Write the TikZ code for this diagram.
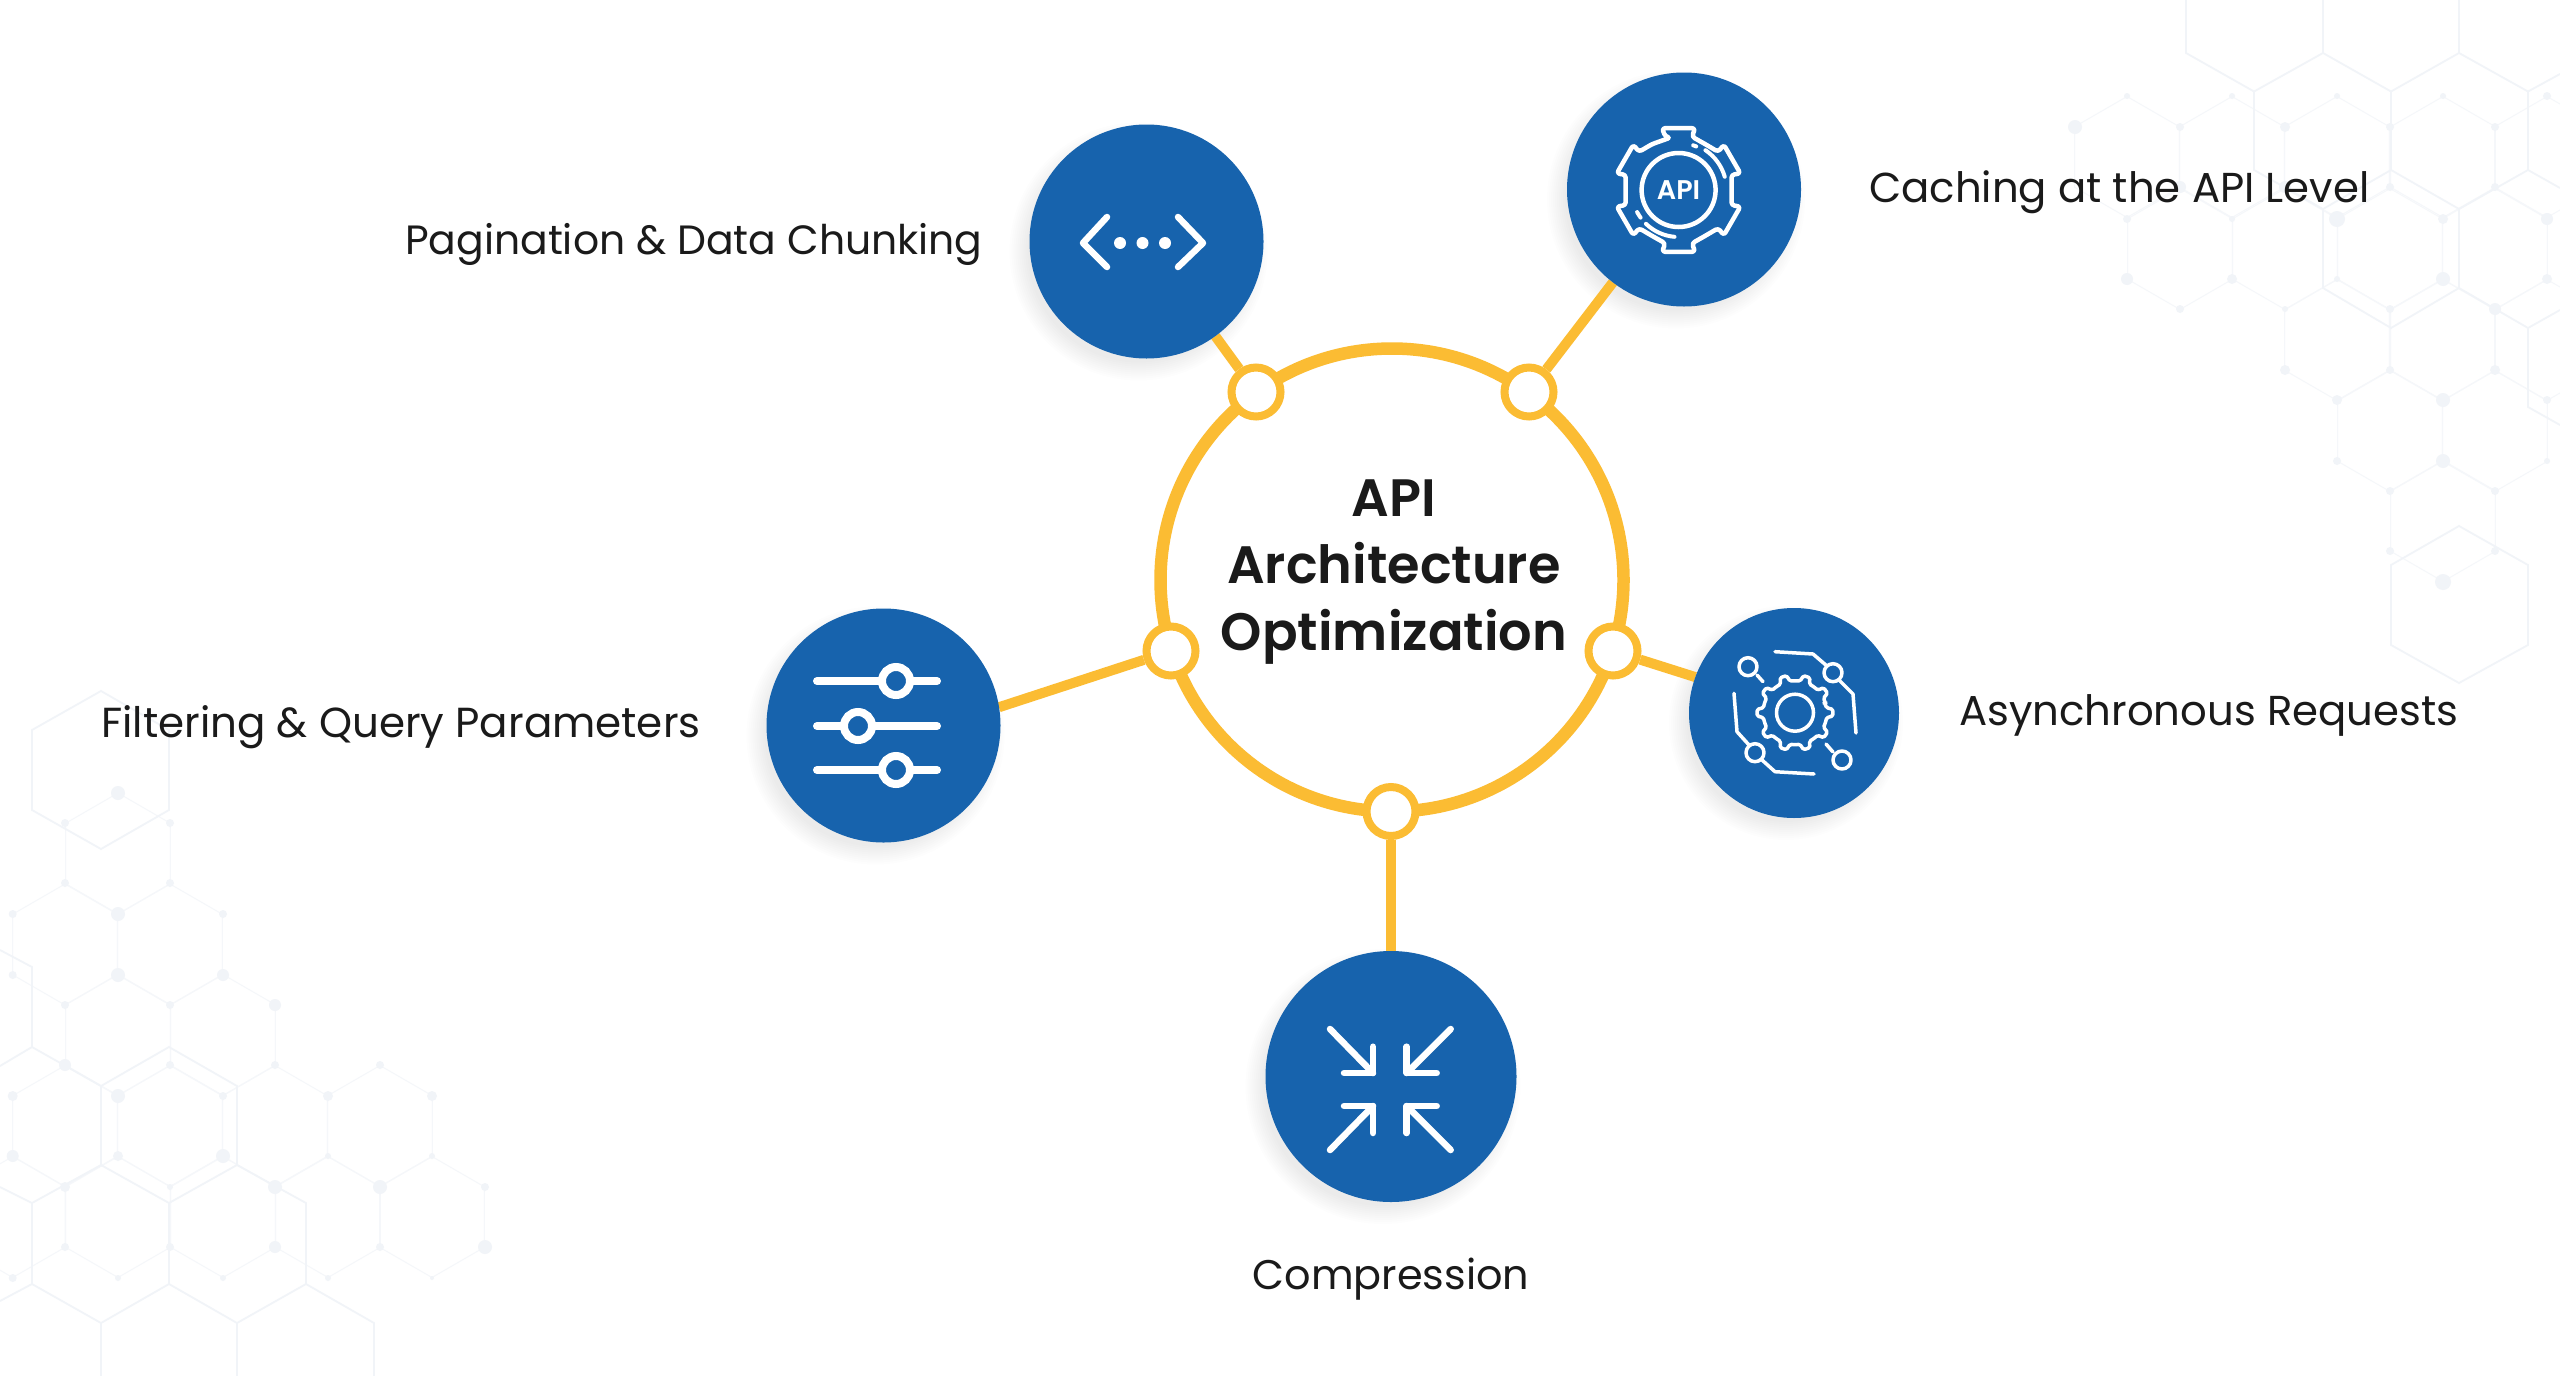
\documentclass[tikz,border=0pt]{standalone}
\usepackage{fontspec}
\setmainfont{Poppins}[BoldFont=Poppins SemiBold]
\usetikzlibrary{backgrounds}
\definecolor{nodeblue}{HTML}{1763AD}
\definecolor{ringyellow}{HTML}{FBBC33}
\definecolor{inkdark}{HTML}{1A1A1A}
\definecolor{hexbig}{HTML}{F1F4F8}
\definecolor{hexthin}{HTML}{F5F7FA}
\definecolor{hexdot}{HTML}{F1F4F8}
\tikzset{
  x=1pt,y=-1pt,
  bigcircle/.style={circle,fill=nodeblue,inner sep=0pt,outer sep=0pt,minimum size=#1},
  smallring/.style={circle,draw=ringyellow,fill=white,line width=8pt,inner sep=0pt,outer sep=4pt,minimum size=49pt},
  link/.style={draw=ringyellow,line width=10pt},
  label/.style={text=inkdark,inner sep=0pt,font=\fontsize{41.8}{46}\selectfont},
  icon/.style={draw=white,line width=#1,line cap=round,line join=round},
  icon/.default=6.5pt,
  bighex/.style={draw=hexbig,line width=1.8pt},
  thinhex/.style={draw=hexthin,line width=1pt},
}
\newcommand{\softshadow}[3]{% x, y, radius
  \foreach \k in {0,...,9}{
    \fill[black,opacity=0.007] (#1-8,#2+10) circle ({#3+12-2*\k});
  }
}
\newcommand{\hexcell}[2]{\draw[thinhex,shift={(#1,#2)}] (90:60.5pt) -- (30:60.5pt) -- (-30:60.5pt) -- (-90:60.5pt) -- (-150:60.5pt) -- (150:60.5pt) -- cycle;}
\begin{document}
\begin{tikzpicture}
\useasboundingbox (0,0) rectangle (2560,1376);

% main nodes
\node[circle,draw=ringyellow,line width=12.5pt,inner sep=0pt,outer sep=0pt,minimum size=463pt] (ring) at (1392,580) {};
\node[font=\fontsize{52.6}{67}\selectfont\bfseries,text=inkdark,align=center,inner sep=0pt] (title) at (1394,572) {API\\Architecture\\Optimization};

\node[smallring] (s1) at (1256,392) {};
\node[smallring] (s2) at (1529,392) {};
\node[smallring] (s3) at (1171,651) {};
\node[smallring] (s4) at (1613,651) {};
\node[smallring] (s5) at (1391,811.5) {};

\node[bigcircle=234pt] (n1) at (1146.5,241.5) {};
\node[bigcircle=234pt] (n2) at (1684,189.5) {};
\node[bigcircle=234pt] (n3) at (883.5,725.5) {};
\node[bigcircle=210pt] (n4) at (1794,713) {};
\node[bigcircle=251pt] (n5) at (1391,1076.5) {};

\node[label,anchor=base west,font=\fontsize{40.9}{46}\selectfont] (l1) at (405,254) {Pagination \& Data Chunking};
\node[label,anchor=base west] (l2) at (1869,202) {Caching at the API Level};
\node[label,anchor=base west,font=\fontsize{42}{46}\selectfont] (l3) at (101,737) {Filtering \& Query Parameters};
\node[label,anchor=base west] (l4) at (1959,725) {Asynchronous Requests};
\node[label,anchor=base,font=\fontsize{41.4}{46}\selectfont] (l5) at (1391,1289) {Compression};

\begin{scope}[on background layer]
  \fill[white] (0,0) rectangle (2560,1376);
  % left honeycomb, thin cells
  \foreach \x/\y in {118/853.5, 65/944.5,170/944.5, 118/1035,223/1035,
     65/1126,170/1126,275/1126,380/1126, 12.7/1217,118/1217,223/1217,328/1217,432/1217}{\hexcell{\x}{\y}}
  % right honeycomb, thin cells
  \foreach \x/\y in {2127/157,2232/157,2337/157,2443/157,2547/157,
     2180/249,2285/249,2390/249,2495/249,
     2337/340,2443/340,2547/340, 2390/431,2495/431, 2443/521}{\hexcell{\x}{\y}}
  % dots
  \foreach \x/\y/\r in {
    118/793/7,65/823/4,170/823/4,65/883/4,170/883/4,12.7/914/4,118/914/7,223/914/4,
    12.7/975/4,118/975/7,223/975/6,65/1005/4,170/1005/4,275/1005/6,
    65/1065/6,170/1065/4,275/1065/4,380/1065/4,
    12.7/1096/5,118/1096/7,223/1096/4,328/1096/5,432/1096/5,
    12.7/1156/6,118/1156/5,223/1156/7,328/1156/3,432/1156/3,
    65/1187/5,170/1187/3,275/1187/7,380/1187/7,485/1187/4,
    65/1247/4,170/1247/4,275/1247/6,380/1247/4,485/1247/7,
    12.7/1278/4,118/1278/3,223/1278/3,328/1278/3,432/1278/2,
    2127/96/3,2232/96/3,2337/96/3,2443/96/3,
    2075/127/7,2180/127/4,2285/127/5,2390/127/4,2495/127/4,2547/96/4,
    2180/187/6,2285/187/6,2390/187/4,2495/187/4,
    2127/219/4,2232/219/3,2337/219/8,2443/219/5,2547/219/6,
    2127/279/6,2232/279/5,2337/279/3,2443/279/7,2547/279/5,
    2180/309/4,2285/309/3,2390/309/4,2495/309/6,
    2285/370/5,2390/370/4,2495/370/5,
    2337/400/5,2443/400/7,2547/400/4,
    2337/461/4,2443/461/7,2547/461/3,
    2390/491/4,2495/491/4, 2390/551/4,2495/551/4, 2443/582/8}{
    \fill[hexdot] (\x,\y) circle (\r pt);
  }
  % left honeycomb, large cells
  \draw[bighex] (101,691) -- (169,730) -- (169,810) -- (101,849) -- (32,810) -- (32,730) -- cycle;
  \draw[bighex] (0,950) -- (32,967) -- (32,1047) -- (0,1066);
  \draw[bighex] (32,1047) -- (101,1086) -- (169,1047) -- (237,1086) -- (237,1165) -- (169,1203) -- (101,1165) -- (101,1086);
  \draw[bighex] (0,1187) -- (32,1203) -- (101,1165);
  \draw[bighex] (32,1203) -- (32,1284) -- (0,1301);
  \draw[bighex] (32,1284) -- (101,1323) -- (169,1284) -- (169,1203);
  \draw[bighex] (169,1284) -- (237,1323) -- (306,1284) -- (306,1203) -- (237,1165);
  \draw[bighex] (306,1284) -- (374,1323) -- (374,1376);
  \draw[bighex] (101,1323) -- (101,1376);
  \draw[bighex] (237,1323) -- (237,1376);
  % right honeycomb, large cells
  \draw[bighex] (2186,0) -- (2186,53) -- (2254,91.5) -- (2323,53) -- (2391,91.5) -- (2459,53) -- (2528,91.5) -- (2560,74);
  \draw[bighex] (2323,0) -- (2323,53);
  \draw[bighex] (2459,0) -- (2459,53);
  \draw[bighex] (2254,91.5) -- (2254,170) -- (2323,209) -- (2391,170) -- (2459,209) -- (2528,170) -- (2560,188);
  \draw[bighex] (2391,91.5) -- (2391,170);
  \draw[bighex] (2528,91.5) -- (2528,170);
  \draw[bighex] (2323,209) -- (2323,288) -- (2391,328) -- (2459,288) -- (2528,328) -- (2560,310);
  \draw[bighex] (2459,209) -- (2459,288);
  \draw[bighex] (2528,328) -- (2528,407) -- (2560,425);
  \draw[bighex] (2459,526) -- (2528,565) -- (2528,645) -- (2459,683) -- (2391,645) -- (2391,565) -- cycle;
  % soft shadows
  \softshadow{1146.5}{241.5}{117}
  \softshadow{1684}{189.5}{117}
  \softshadow{883.5}{725.5}{117}
  \softshadow{1794}{713}{105}
  \softshadow{1391}{1076.5}{125.5}
  % connectors
  \draw[link] (s1) -- (n1);
  \draw[link] (s2) -- (n2);
  \draw[link] (s3) -- (n3.9);
  \draw[link] (s4) -- (n4.160);
  \draw[link] (s5) -- (n5.north);
\end{scope}

% code icon
\draw[icon] (1107,217) -- (1083,243) -- (1107,267);
\draw[icon] (1178,217) -- (1203,243) -- (1178,267);
\foreach \x in {1120,1142.5,1165}{\fill[white] (\x,243) circle (6pt);}

% API gear icon
\begin{scope}[shift={(1678.6,190)}]
  \draw[icon=4.5pt,rounded corners=3pt] (99:53pt)
    \foreach \a in {90,30,-30,-90,-150,150}{
      -- (\a+14:55pt) -- (\a+15:64pt) -- (\a-15:64pt) -- (\a-14:55pt) -- (\a-30:53pt)
    } -- cycle;
  \draw[icon=4.5pt] (0,0) circle (37pt);
  \draw[icon=4pt] (56:48pt) arc[start angle=56,end angle=16,radius=48pt];
  \draw[icon=4pt] (72:47pt) arc[start angle=72,end angle=68,radius=47pt];
  \draw[icon=4pt] (226:47pt) arc[start angle=226,end angle=265,radius=47pt];
  \draw[icon=4pt] (208:47pt) arc[start angle=208,end angle=216,radius=47pt];
  \node[text=white,inner sep=0pt,font=\fontsize{27}{27}\selectfont\bfseries] (apitag) at (0,0) {API};
\end{scope}

% sliders icon
\foreach \y/\x in {681/896,726/858,770/896}{
  \draw[icon=8pt] (817,\y) -- (937,\y);
  \draw[draw=white,fill=nodeblue,line width=8pt] (\x,\y) circle (14pt);
}

% async gear icon
\begin{scope}[shift={(1795,712.7)}]
  \draw[icon=3.5pt,rounded corners=1.5pt] (18:31pt)
    \foreach \a in {0,36,...,324}{
      -- (\a+18:32pt) -- (\a+27:32pt) -- (\a+31:38pt) -- (\a+41:38pt) -- (\a+45:32pt)
    } -- cycle;
  \draw[icon=3.5pt] (0,0) circle (18.5pt);
\end{scope}
\draw[icon=3.5pt] (1775,651.7) -- (1813,654) -- (1827,666);
\draw[icon=3.5pt] (1839,680) -- (1853,694) -- (1856,733);
\draw[icon=3.5pt] (1833,672.7) circle (9pt);
\draw[icon=3.5pt] (1734,693.3) -- (1737,731.7) -- (1749,745);
\draw[icon=3.5pt] (1762,760) -- (1775,771.7) -- (1814,774);
\draw[icon=3.5pt] (1755,752.7) circle (9pt);
\draw[icon=3.5pt] (1748,666.7) circle (9pt);
\draw[icon=3.5pt] (1757,675) -- (1763,681.7);
\draw[icon=3.5pt] (1842,760) circle (9pt);
\draw[icon=3.5pt] (1833,752) -- (1826,744);

% compression icon
\draw[icon] (1330,1029) -- (1373,1073);
\draw[icon] (1373,1046.7) -- (1373,1073) -- (1344,1073);
\draw[icon] (1450.7,1029) -- (1406.7,1073);
\draw[icon] (1406.7,1046.7) -- (1406.7,1073) -- (1436.7,1073);
\draw[icon] (1330,1150) -- (1373,1106);
\draw[icon] (1344,1106) -- (1373,1106) -- (1373,1133);
\draw[icon] (1450.7,1150) -- (1406.7,1106);
\draw[icon] (1436.7,1106) -- (1406.7,1106) -- (1406.7,1133);
\end{tikzpicture}
\end{document}
